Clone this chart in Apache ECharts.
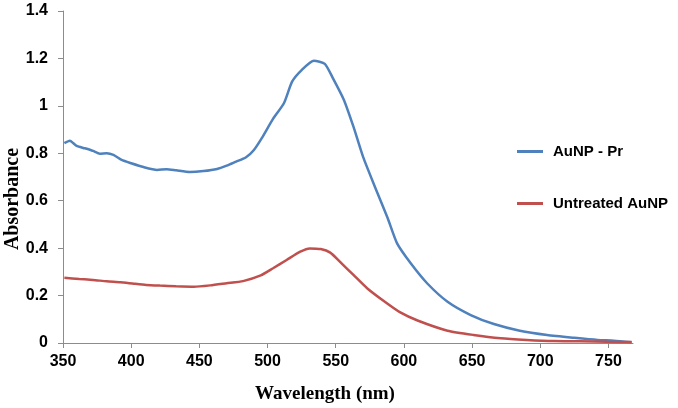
<!DOCTYPE html>
<html>
<head>
<meta charset="utf-8">
<script src="https://cdn.jsdelivr.net/npm/echarts@6/dist/echarts.min.js"></script>
<style>
html,body{margin:0;padding:0;background:#fff;}
#chart{width:678px;height:408px;}
</style>
</head>
<body>
<div id="chart"></div>
<script>
// Wavelength ticks
var xTicks = [350, 400, 450, 500, 550, 600, 650, 700, 750];
var yTicks = [0, 0.2, 0.4, 0.6, 0.8, 1, 1.2, 1.4];

// AuNP - Pr (blue)
var waveAuNPPr = [351, 355, 360, 366, 372, 377, 382, 387, 393, 400, 409, 419, 426, 433, 443, 453, 463, 470, 477, 484, 490, 496, 504, 512, 518, 525, 534, 542, 548, 556, 563, 570, 579, 588, 595, 605, 617, 632, 649, 666, 685, 705, 725, 742, 754, 767];
var absAuNPPr  = [0.843, 0.853, 0.831, 0.821, 0.810, 0.798, 0.800, 0.793, 0.772, 0.758, 0.742, 0.730, 0.733, 0.728, 0.721, 0.725, 0.734, 0.748, 0.765, 0.782, 0.814, 0.866, 0.945, 1.011, 1.102, 1.151, 1.190, 1.177, 1.116, 1.025, 0.912, 0.786, 0.655, 0.528, 0.420, 0.336, 0.252, 0.174, 0.118, 0.080, 0.052, 0.034, 0.022, 0.013, 0.010, 0.003];

// Untreated AuNP (red)
var waveUntreated = [351, 362, 372, 382, 392, 402, 411, 421, 433, 446, 458, 470, 482, 495, 504, 514, 524, 531, 539, 546, 553, 563, 573, 585, 597, 610, 632, 651, 671, 690, 710, 729, 749, 767];
var absUntreated  = [0.275, 0.270, 0.266, 0.260, 0.256, 0.250, 0.245, 0.242, 0.239, 0.237, 0.243, 0.252, 0.261, 0.285, 0.315, 0.350, 0.385, 0.399, 0.396, 0.381, 0.343, 0.287, 0.231, 0.178, 0.130, 0.095, 0.052, 0.034, 0.020, 0.013, 0.008, 0.007, 0.005, 0.004];

function pairs(xs, ys) { return xs.map(function (x, i) { return [x, ys[i]]; }); }

var chart = echarts.init(document.getElementById('chart'), null, {renderer: 'canvas'});
var axisColor = '#8c8c8c';
var labelFont = {color: '#000', fontFamily: 'Liberation Sans, Arial, sans-serif', fontWeight: 'bold', fontSize: 16};
chart.setOption({
  animation: false,
  backgroundColor: '#fff',
  grid: {left: 63, right: 45, top: 11, bottom: 65, containLabel: false, outerBoundsMode: 'none'},
  legend: {
    orient: 'vertical',
    left: 517, top: 144, padding: 0,
    itemWidth: 26, itemHeight: 3, itemGap: 37,
    icon: 'rect',
    textStyle: {color: '#000', fontFamily: 'Liberation Sans, Arial, sans-serif', fontWeight: 'bold', fontSize: 15, padding: [0, 0, 0, 5]},
    data: ['AuNP - Pr', 'Untreated AuNP']
  },
  xAxis: {
    type: 'value', min: 350, max: 768, interval: 50,
    name: 'Wavelength (nm)', nameLocation: 'middle', nameGap: 42, nameMoveOverlap: false,
    nameTextStyle: {color: '#000', fontFamily: 'Liberation Serif, Times New Roman, serif', fontWeight: 'bold', fontSize: 19, padding: [0, 46, 0, 0]},
    axisLine: {show: true, lineStyle: {color: axisColor, width: 1}},
    axisTick: {show: true, length: 5, lineStyle: {color: axisColor}, customValues: xTicks},
    axisLabel: Object.assign({margin: 11, customValues: xTicks}, labelFont),
    splitLine: {show: false}
  },
  yAxis: {
    type: 'value', min: 0, max: 1.4, interval: 0.2,
    name: 'Absorbance', nameLocation: 'middle', nameGap: 40, nameMoveOverlap: false,
    nameTextStyle: {color: '#000', fontFamily: 'Liberation Serif, Times New Roman, serif', fontWeight: 'bold', fontSize: 20, padding: [0, 44, 0, 0]},
    axisLine: {show: true, lineStyle: {color: axisColor, width: 1}},
    axisTick: {show: true, length: 5, lineStyle: {color: axisColor}},
    axisLabel: Object.assign({margin: 15, customValues: yTicks}, labelFont),
    splitLine: {show: false}
  },
  series: [
    {name: 'AuNP - Pr', type: 'line', data: pairs(waveAuNPPr, absAuNPPr), showSymbol: false, smooth: 0.2,
     lineStyle: {color: '#4F81BD', width: 2.5}, itemStyle: {color: '#4F81BD'}},
    {name: 'Untreated AuNP', type: 'line', data: pairs(waveUntreated, absUntreated), showSymbol: false, smooth: 0.2,
     lineStyle: {color: '#C0504D', width: 2.5}, itemStyle: {color: '#C0504D'}}
  ]
});
</script>
</body>
</html>
